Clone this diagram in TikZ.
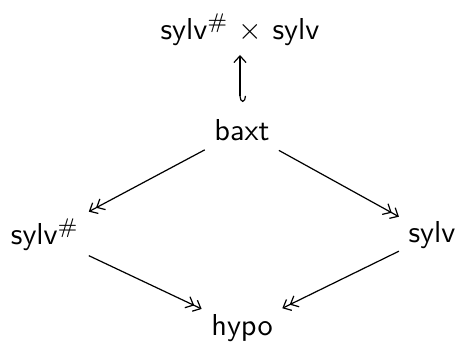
\documentclass[tikz,border=0pt]{standalone}
\usetikzlibrary{arrows.meta}
\begin{document}
\begin{tikzpicture}[x=0.33pt,y=-0.33pt,
  obj/.style={font=\sffamily, inner sep=3pt},
  surj/.style={-{Straight Barb[length=2.2pt,width=4pt]Straight Barb[length=2.2pt,width=4pt]}, line width=0.4pt},
  inj/.style={{Hooks[left,length=2pt,width=4pt]}-{Straight Barb[length=2.2pt,width=4pt]}, line width=0.4pt}]
\useasboundingbox (0,0) rectangle (455,346);
\node[obj] (top) at (240,30) {sylv$^{\#}$ $\times$ sylv};
\node[obj] (baxt) at (242,130) {baxt};
\node[obj] (sylvs) at (45,235) {sylv$^{\#}$};
\node[obj] (sylv) at (432,235) {sylv};
\node[obj] (hypo) at (242,328) {hypo};
\coordinate (hb) at (240,102);
\coordinate (ht) at (240,55);
\draw[inj] (hb) -- (ht);
\draw[surj] (baxt) -- (sylvs);
\draw[surj] (baxt) -- (sylv);
\draw[surj] (sylvs) -- (hypo);
\draw[surj] (sylv) -- (hypo);
\end{tikzpicture}
\end{document}
